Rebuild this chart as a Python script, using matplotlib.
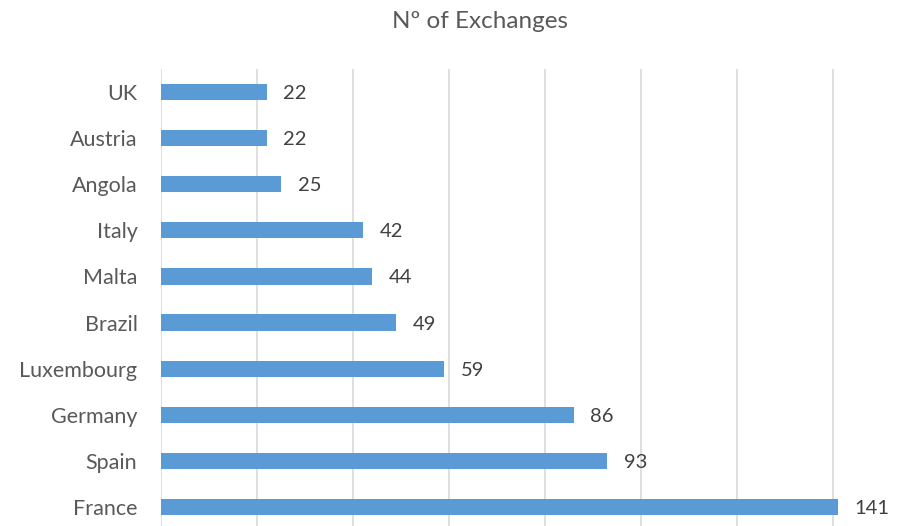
import matplotlib.pyplot as plt

# Data (top to bottom as shown)
countries = ['UK', 'Austria', 'Angola', 'Italy', 'Malta', 'Brazil',
             'Luxembourg', 'Germany', 'Spain', 'France']
exchanges = [22, 22, 25, 42, 44, 49, 59, 86, 93, 141]
grid_ticks = [0, 20, 40, 60, 80, 100, 120, 140, 160]

plt.rcParams['font.family'] = ['Lato', 'DejaVu Sans']

W, H = 911, 526
fig = plt.figure(figsize=(W / 100, H / 100), dpi=100)
ax = fig.add_axes([161 / W, (H - 530) / H, 768 / W, 461 / H])

ypos = list(range(len(countries)))
ax.barh(ypos, exchanges, height=0.35, color='#5B9BD5', zorder=2)

ax.set_ylim(len(countries) - 0.5, -0.5)
ax.set_xlim(0, 160)
ax.set_yticks(ypos)
ax.set_yticklabels(countries, fontsize=15.5, color='#595959')
ax.tick_params(axis='y', length=0, pad=17)
ax.set_xticks(grid_ticks)
ax.tick_params(axis='x', length=0, labelbottom=False)
ax.grid(axis='x', color='#D9D9D9', linewidth=1.2, zorder=0)

for s in ax.spines.values():
    s.set_visible(False)

for y, v in zip(ypos, exchanges):
    ax.annotate(str(v), (v, y), xytext=(12, 0), textcoords='offset points',
                va='center_baseline', ha='left', fontsize=14.5, color='#404040')

fig.text(480 / W, 1 - 21 / H, 'Nº of Exchanges', ha='center', va='center',
         fontsize=17.5, color='#595959')

fig.savefig('out.png', dpi=100)
